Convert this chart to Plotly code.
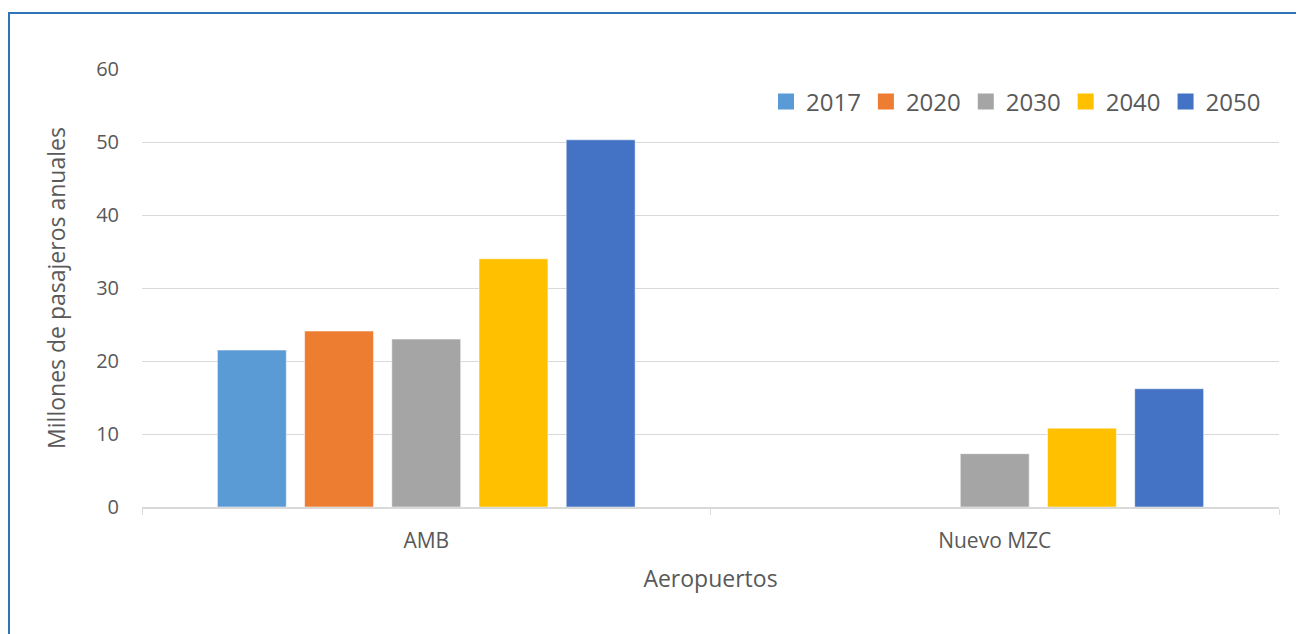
import plotly.graph_objects as go

categories = ["AMB", "Nuevo MZC"]
years = ["2017", "2020", "2030", "2040", "2050"]
values = {
    "2017": [21.5, None],
    "2020": [24.1, None],
    "2030": [23.0, 7.3],
    "2040": [34.0, 10.8],
    "2050": [50.3, 16.2],
}
colors = {
    "2017": "#5B9BD5",
    "2020": "#ED7D31",
    "2030": "#A5A5A5",
    "2040": "#FFC000",
    "2050": "#4472C4",
}
y_ticks = [0, 10, 20, 30, 40, 50, 60]

OFF = 8  # page body margin
W, H = 1304 - OFF, 634 - OFF
ml, mt = 142 - OFF, 69 - OFF
mr = W - (1279 - OFF)
mb = H - (507 - OFF)
pw, ph = W - ml - mr, H - mt - mb

def px(x):
    return (x - OFF - ml) / pw

def py(y):
    return (H - mb - (y - OFF)) / ph

fig = go.Figure()
for yr in years:
    fig.add_trace(go.Bar(
        x=categories, y=values[yr], name=yr, showlegend=False,
        marker=dict(color=colors[yr], line=dict(color="rgba(255,255,255,0.5)", width=1)),
    ))
# legend entries with larger square swatches
for yr in years:
    fig.add_trace(go.Scatter(
        x=[None], y=[None], name=yr, mode="markers",
        marker=dict(symbol="square", size=16, color=colors[yr]),
    ))

fig.update_layout(
    width=W, height=H,
    margin=dict(l=ml, r=mr, t=mt, b=mb),
    paper_bgcolor="white", plot_bgcolor="white",
    barmode="group", bargap=0.233, bargroupgap=0.21,
    font=dict(family="Open Sans", color="#595959", size=20),
    showlegend=True,
    legend=dict(
        orientation="h", x=px(766), y=py(102), xanchor="left", yanchor="middle",
        font=dict(size=24, color="#595959"), itemwidth=30,
        bgcolor="rgba(0,0,0,0)", traceorder="normal",
    ),
    xaxis=dict(
        title=dict(text="Aeropuertos", font=dict(size=23, color="#595959"), standoff=18),
        showgrid=False, showline=True, linecolor="#D9D9D9", linewidth=1.5,
        ticks="outside", tickson="boundaries", ticklen=6, tickcolor="#D9D9D9",
        tickfont=dict(size=21, color="#595959"), ticklabelstandoff=14,
    ),
    yaxis=dict(
        title=dict(text="Millones de pasajeros anuales", font=dict(size=23, color="#595959"), standoff=24),
        range=[0, 60], tickvals=y_ticks, showgrid=True, gridcolor="#D9D9D9", gridwidth=1,
        zeroline=False, showline=False, ticks="", ticklabelstandoff=22,
        tickfont=dict(size=20, color="#595959"),
    ),
    shapes=[dict(
        type="rect", xref="paper", yref="paper",
        x0=px(9), x1=px(1320), y0=py(650), y1=py(13),
        line=dict(color="#2E75B6", width=2), fillcolor="rgba(0,0,0,0)", layer="below",
    )],
)

fig.write_html("out.html")
